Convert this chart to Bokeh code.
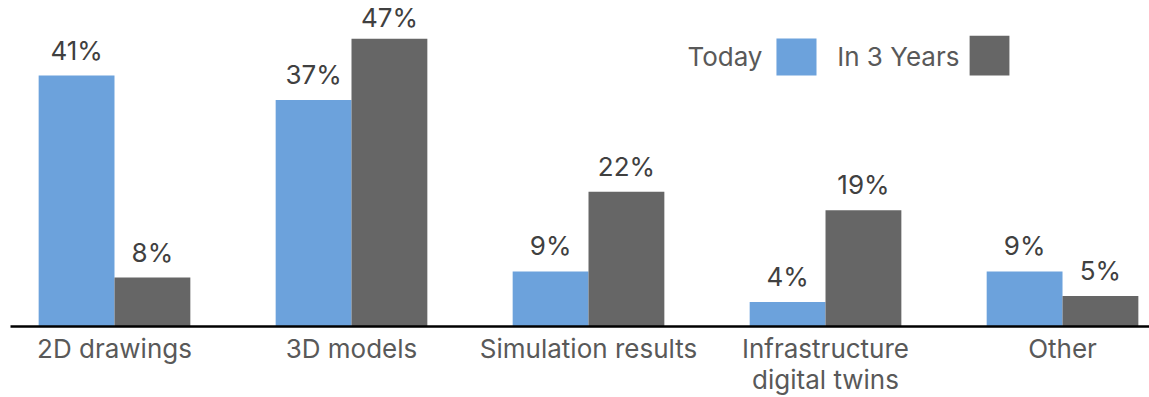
from bokeh.plotting import figure
from bokeh.models import FixedTicker, Range1d, ColumnDataSource
from bokeh.core.properties import value
from bokeh.embed import file_html
from bokeh.resources import INLINE

categories = ["2D drawings", "3D models", "Simulation results",
              "Infrastructure\ndigital twins", "Other"]
today = [41, 37, 9, 4, 9]
in_3_years = [8, 47, 22, 19, 5]
series_names = ["Today", "In 3 Years"]

BLUE = "#6CA2DC"
GRAY = "#666666"
FONT = "Inter"
Y_MAX = 53.27

p = figure(width=1149, height=397, output_backend="svg", toolbar_location=None,
           x_range=Range1d(-0.4388, 4.367), y_range=Range1d(0, Y_MAX),
           min_border_left=10, min_border_right=0, min_border_top=0,
           min_border_bottom=71)
p.outline_line_color = None
p.background_fill_color = "white"
p.border_fill_color = "white"
p.xgrid.visible = False
p.ygrid.visible = False
p.yaxis.visible = False

half = 0.16
idx = list(range(len(categories)))


def label_offset(v):
    # pull labels of the tallest bars a little closer so they stay inside
    return -6 if v > Y_MAX - 7 else -10


src = ColumnDataSource(dict(
    xt=[i - half for i in idx], xf=[i + half for i in idx],
    today=today, future=in_3_years,
    lt=[f"{v}%" for v in today], lf=[f"{v}%" for v in in_3_years],
    ot=[label_offset(v) for v in today], of=[label_offset(v) for v in in_3_years],
))

p.vbar(x="xt", top="today", bottom=0, width=2 * half, source=src,
       fill_color=BLUE, line_color=None)
p.vbar(x="xf", top="future", bottom=0, width=2 * half, source=src,
       fill_color=GRAY, line_color=None)

label_kw = dict(text_font=value(FONT), text_font_size="26px", text_color="#404040",
                text_align="center", text_baseline="bottom")
p.text(x="xt", y="today", text="lt", y_offset="ot", source=src, **label_kw)
p.text(x="xf", y="future", text="lf", y_offset="of", source=src, **label_kw)

# x axis with category names
ax = p.xaxis[0]
ax.ticker = FixedTicker(ticks=idx)
ax.major_label_overrides = {i: c for i, c in zip(idx, categories)}
ax.major_tick_in = 0
ax.major_tick_out = 0
ax.minor_tick_in = 0
ax.minor_tick_out = 0
ax.axis_line_color = "black"
ax.axis_line_width = 2.5
ax.major_label_standoff = 6
ax.major_label_text_line_height = 1.0
ax.major_label_text_font = FONT
ax.major_label_text_font_size = "26px"
ax.major_label_text_color = "#595959"

# legend: name followed by a colour swatch
leg_src = ColumnDataSource(dict(
    name=series_names,
    tx=[2.734, 3.565], ty=[41.0, 41.0],
    left=[2.793, 3.608], right=[2.962, 3.776],
    bottom=[41.0, 41.0], top=[47.06, 47.5],
    color=[BLUE, GRAY],
))
p.quad(left="left", right="right", bottom="bottom", top="top",
       fill_color="color", line_color=None, source=leg_src)
p.text(x="tx", y="ty", text="name", source=leg_src, text_font=value(FONT),
       text_font_size="26px", text_color="#595959", text_align="right",
       text_baseline="bottom", y_offset=-4)

open("out.html", "w").write(file_html(p, INLINE))
